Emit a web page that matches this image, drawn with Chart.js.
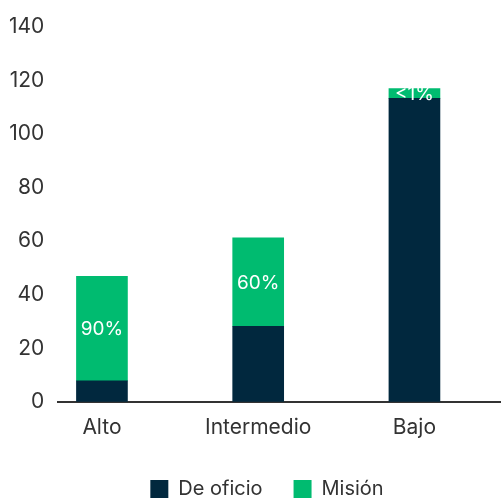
<!DOCTYPE html>
<html>
<head>
<meta charset="utf-8">
<script src="https://cdn.jsdelivr.net/npm/chart.js@4"></script>
<style>
  html, body { margin: 0; padding: 0; background: #fff; }
  #wrap { width: 501px; height: 499px; }
</style>
</head>
<body>
<div id="wrap"><canvas id="myChart"></canvas></div>
<script>
  var categories = ['Alto', 'Intermedio', 'Bajo'];
  var deOficio = [7.8, 28.2, 113.2];
  var mision = [39, 33, 3.7];
  var misionLabels = ['90%', '60%', '<1%'];
  var yMax = 140;
  var yStep = 20;

  var navy = '#01283e';
  var green = '#00bb70';
  var textColor = '#333333';
  var fontFamily = 'Inter, "Open Sans", sans-serif';

  // bars sit at x = 1, 2, 3 on a linear axis
  function toPoints(values) {
    return values.map(function (v, i) { return { x: i + 1, y: v }; });
  }

  // white percentage text centred inside the green segments
  var segmentLabels = {
    id: 'segmentLabels',
    afterDatasetsDraw: function (chart) {
      var c = chart.ctx;
      var meta = chart.getDatasetMeta(1);
      c.save();
      c.fillStyle = '#ffffff';
      c.font = '19px ' + fontFamily;
      c.textAlign = 'center';
      c.textBaseline = 'middle';
      meta.data.forEach(function (bar, i) {
        c.fillText(misionLabels[i], bar.x, (bar.y + bar.base) / 2 + 1);
      });
      c.restore();
    }
  };

  var ctx = document.getElementById('myChart');

  new Chart(ctx, {
    type: 'bar',
    data: {
      datasets: [{
        label: 'De oficio',
        data: toPoints(deOficio),
        backgroundColor: navy,
        barThickness: 51
      }, {
        label: 'Misión',
        data: toPoints(mision),
        backgroundColor: green,
        barThickness: 51
      }]
    },
    options: {
      responsive: true,
      maintainAspectRatio: false,
      animation: false,
      layout: {
        padding: { top: 14, left: -5, right: -38, bottom: -10 }
      },
      plugins: {
        legend: {
          position: 'bottom',
          labels: {
            boxWidth: 18,
            boxHeight: 18,
            padding: 31,
            color: textColor,
            font: { family: fontFamily, size: 20 }
          }
        },
        tooltip: { enabled: false }
      },
      scales: {
        x: {
          type: 'linear',
          stacked: true,
          offset: false,
          min: 0.721,
          max: 3.554,
          grid: { display: false, drawTicks: false },
          border: { color: '#333333', width: 2 },
          afterBuildTicks: function (scale) {
            scale.ticks = categories.map(function (c, i) { return { value: i + 1 }; });
          },
          // labels sit well inside the axis, so no edge padding is needed
          afterFit: function (scale) {
            scale.paddingLeft = 0;
            scale.paddingRight = 0;
            scale.height -= 5;
          },
          ticks: {
            autoSkip: false,
            maxRotation: 0,
            padding: 13,
            color: textColor,
            font: { family: fontFamily, size: 21 },
            callback: function (v) { return categories[v - 1]; }
          }
        },
        y: {
          stacked: true,
          min: 0,
          max: yMax,
          grid: { display: false, drawTicks: false },
          border: { display: false },
          ticks: {
            stepSize: yStep,
            padding: 14,
            color: textColor,
            font: { family: fontFamily, size: 21 }
          }
        }
      }
    },
    plugins: [segmentLabels]
  });
</script>
</body>
</html>
